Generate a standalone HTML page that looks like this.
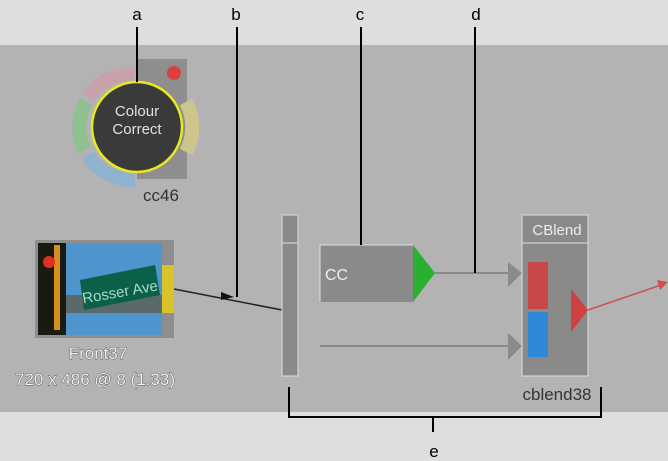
<!DOCTYPE html>
<html><head><style>
body{margin:0;width:668px;height:461px;overflow:hidden;background:#dedede;font-family:"Liberation Sans",sans-serif}
</style></head><body>
<svg width="668" height="461" xmlns="http://www.w3.org/2000/svg" style="position:absolute;left:0;top:0">
<rect x="0" y="0" width="668" height="461" fill="#dedede"/>
<rect x="0" y="45" width="668" height="367" fill="#b3b3b3"/>
<!-- colour correct node -->
<rect x="137" y="59" width="50" height="120" fill="#8e8e8e"/>
<circle cx="174" cy="73" r="7" fill="#d94040"/>
<g fill="none" stroke-width="14">
<path d="M88,97 A53,53 0 0 1 135,74" stroke="#c8a2aa"/>
<path d="M84,150 A53,53 0 0 1 86,102" stroke="#8fc08f"/>
<path d="M135,180 A53,53 0 0 1 88,155" stroke="#8fb2d0"/>
<path d="M186,102 A53,53 0 0 1 186,152" stroke="#ccc68e"/>
</g>
<circle cx="137" cy="127" r="45" fill="#3a3a3a" stroke="#e8e820" stroke-width="2.5"/>
<text x="137" y="116" font-size="15" fill="#e0e0e0" text-anchor="middle">Colour</text>
<text x="137" y="134" font-size="15" fill="#e0e0e0" text-anchor="middle">Correct</text>
<text x="161" y="201" font-size="17" fill="#333" text-anchor="middle">cc46</text>
<!-- front thumbnail -->
<rect x="35" y="240" width="139" height="98" fill="#8e8e8e"/>
<rect x="38" y="243" width="124" height="92" fill="#4d95cc"/>
<rect x="38" y="243" width="28" height="92" fill="#1a1a10"/>
<rect x="54" y="245" width="6" height="85" fill="#d8901a"/>
<circle cx="49" cy="262" r="6" fill="#e03020"/>
<rect x="66" y="295" width="96" height="18" fill="#5a6a6a"/>
<polygon points="80,280 155,265 160,295 84,310" fill="#0a6048"/>
<text x="120" y="297" font-size="15" fill="#a8d8c8" text-anchor="middle" transform="rotate(-10 120 292)">Rosser Ave</text>
<rect x="162" y="265" width="12" height="48" fill="#d8c42a"/>
<text x="98" y="359" font-size="17" fill="#f4f4f4" text-anchor="middle" stroke="#333" stroke-width="0.7" paint-order="stroke">Front37</text>
<text x="95" y="385" font-size="17" fill="#f4f4f4" text-anchor="middle" stroke="#333" stroke-width="0.7" paint-order="stroke">720 x 486 @ 8 (1.33)</text>
<!-- connection front to bar -->
<line x1="174" y1="289" x2="282" y2="310" stroke="#222" stroke-width="1.5"/>
<polygon points="221,292 234,297 221,300" fill="#111"/>
<!-- bar -->
<rect x="282" y="215" width="16" height="161" fill="#8a8a8a" stroke="#ddd" stroke-width="1"/>
<line x1="282" y1="243" x2="298" y2="243" stroke="#ddd"/>
<!-- CC node -->
<rect x="320" y="245" width="93" height="57" fill="#8a8a8a"/>
<line x1="320" y1="245" x2="413" y2="245" stroke="#ddd"/>
<line x1="320" y1="245" x2="320" y2="302" stroke="#ddd"/>
<polygon points="413,245 435,273 413,302" fill="#28b030"/>
<text x="325" y="280" font-size="16" fill="#eee">CC</text>
<line x1="435" y1="273" x2="508" y2="273" stroke="#8a8a8a" stroke-width="2"/>
<line x1="320" y1="346" x2="508" y2="346" stroke="#8a8a8a" stroke-width="2"/>
<polygon points="508,262 522,273 508,287" fill="#8a8a8a"/>
<polygon points="508,333 522,346 508,360" fill="#8a8a8a"/>
<!-- CBlend -->
<rect x="522" y="215" width="66" height="161" fill="#8a8a8a" stroke="#ddd"/>
<line x1="522" y1="243" x2="588" y2="243" stroke="#ddd"/>
<text x="557" y="235" font-size="15" fill="#eee" text-anchor="middle">CBlend</text>
<rect x="528" y="262" width="20" height="47" fill="#c84848"/>
<rect x="528" y="312" width="20" height="45" fill="#3088d8"/>
<polygon points="571,289 588,310 571,332" fill="#d04040"/>
<line x1="588" y1="310" x2="664" y2="284" stroke="#d05050" stroke-width="1.5"/>
<polygon points="668,282 657,280 660,290" fill="#d05050"/>
<text x="557" y="400" font-size="17" fill="#333" text-anchor="middle">cblend38</text>
<!-- callouts -->
<g stroke="#000" stroke-width="2" fill="none">
<line x1="137" y1="27" x2="137" y2="82"/>
<line x1="237" y1="27" x2="237" y2="297"/>
<line x1="361" y1="27" x2="361" y2="245"/>
<line x1="475" y1="27" x2="475" y2="273"/>
<polyline points="289,387 289,417 601,417 601,387"/>
<line x1="433" y1="417" x2="433" y2="432"/>
</g>
<g font-size="17" fill="#000" text-anchor="middle">
<text x="137" y="20">a</text><text x="236" y="20">b</text><text x="360" y="20">c</text><text x="476" y="20">d</text><text x="434" y="457">e</text>
</g>
</svg>
</body></html>
